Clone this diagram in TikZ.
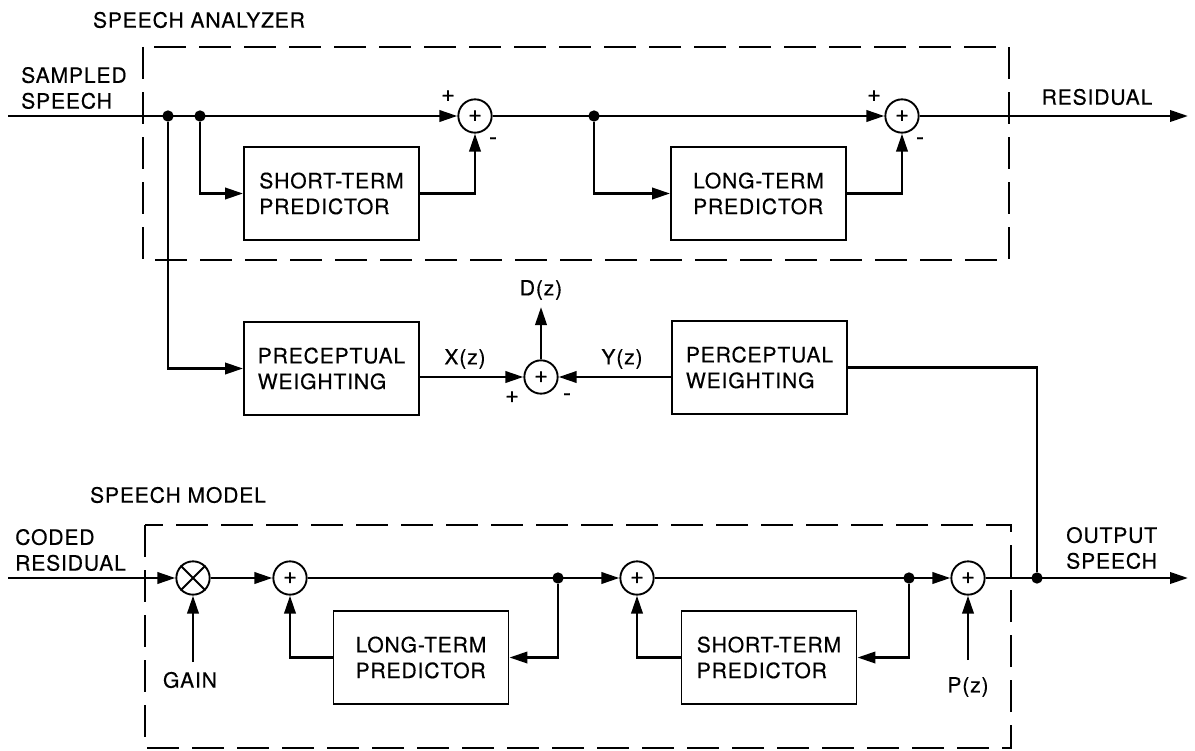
\documentclass[tikz,border=0pt]{standalone}
\usepackage{fontspec}
\setmainfont[LetterSpace=4,FakeBold=0.4]{TeX Gyre Heros}
\usetikzlibrary{arrows.meta}
\newcommand{\diafont}{\fontsize{18}{22}\selectfont}
\newcommand{\signfont}{\fontsize{20}{20}\selectfont}
\tikzset{blk/.style={draw,line width=1.6pt,minimum width=52.5mm,minimum height=28mm,align=left,font=\diafont},sum/.style={draw,circle,line width=1.6pt,minimum size=10mm,inner sep=0pt,font=\signfont},dot/.style={circle,fill,inner sep=0pt,minimum size=3.4mm},wire/.style={line width=2.3pt},edge/.style={wire,-{Triangle[length=5.4mm,width=3.4mm]}},frame/.style={line width=2pt,dash pattern=on 9.5mm off 4mm},lbl/.style={font=\diafont,inner sep=0pt,align=left},sgn/.style={font=\signfont,inner sep=0pt}}

\begin{document}
\begin{tikzpicture}[x=0.3mm,y=-0.3mm]
\useasboundingbox (0,0) rectangle (1195,750);
% analyzer
\draw[frame] (143,47) rectangle (1009,260);
\node[lbl] (ana) at (199,20) {SPEECH ANALYZER};
\node[lbl,anchor=west] (sampled) at (21,88) {SAMPLED\\SPEECH};
\coordinate (in1) at (8,116);
\node[dot] (j1) at (168,116) {};
\node[dot] (j2) at (200,116) {};
\node[sum] (s1) at (475,116) {+};
\node[dot] (j3) at (594,116) {};
\node[sum] (s2) at (902,116) {+};
\coordinate (out1) at (1188,116);
\node[blk] (stp) at (331.5,193.5) {SHORT-TERM\\PREDICTOR};
\node[blk] (ltp) at (758.5,193.5) {LONG-TERM\\PREDICTOR};
\node[lbl] (resid) at (1097,97) {RESIDUAL};
\node[sgn] at (448,96) {+};\node[sgn] at (493,141) {-};
\node[sgn] at (874,96) {+};\node[sgn] at (920,141) {-};
\draw[edge] (in1) -- (s1);\draw[edge] (j2) |- (stp.west);\draw[edge] (stp.east) -| (s1.south);
\draw[edge] (s1) -- (s2);\draw[edge] (j3) |- (ltp.west);\draw[edge] (ltp.east) -| (s2.south);
\draw[edge] (s2) -- (out1);
% error weighting
\node[blk] (pw1) at (331.5,368.5) {PRECEPTUAL\\WEIGHTING};
\node[blk] (pw2) at (759.5,367.5) {PERCEPTUAL\\WEIGHTING};
\node[sum] (s3) at (541,377) {+};
\coordinate (dz) at (541,307);
\node[lbl] at (541,290) {D(z)};
\node[lbl] at (465,359) {X(z)};
\node[lbl] at (622,359) {Y(z)};
\node[sgn] at (512,397) {+};\node[sgn] at (567,397) {-};
\draw[edge] (j1) |- (pw1.west);\draw[edge] (pw1.east |- s3) -- (s3);\draw[edge] (pw2.west |- s3) -- (s3);\draw[edge] (s3) -- (dz);
% speech model
\draw[frame] (145,525) rectangle (1011,748);
\node[lbl] (mdl) at (178,495) {SPEECH MODEL};
\node[lbl,anchor=west] (coded) at (15,550) {CODED\\RESIDUAL};
\coordinate (in2) at (8,578);
\node[sum] (mul) at (193,578) {};
\draw[line width=1.6pt] (mul.north west) -- (mul.south east) (mul.north east) -- (mul.south west);
\coordinate (gain) at (193,662);
\node[lbl] at (190,680) {GAIN};
\node[sum] (s4) at (290,578) {+};
\node[dot] (j4) at (558,578) {};
\node[sum] (s5) at (637,578) {+};
\node[dot] (j5) at (909,578) {};
\node[sum] (s6) at (968,578) {+};
\node[dot] (j6) at (1037,578) {};
\coordinate (out2) at (1188,578);
\coordinate (pz) at (968,660);
\node[lbl] at (968,687) {P(z)};
\node[blk] (lt2) at (421,657.5) {LONG-TERM\\PREDICTOR};
\node[blk] (st2) at (769,657.5) {SHORT-TERM\\PREDICTOR};
\node[lbl,anchor=west] (outsp) at (1066,548) {OUTPUT\\SPEECH};
\draw[edge] (in2) -- (mul);\draw[edge] (gain) -- (mul);\draw[edge] (mul) -- (s4);
\draw[edge] (s4) -- (s5);\draw[edge] (j4) |- (lt2.east);\draw[edge] (lt2.west) -| (s4.south);
\draw[edge] (s5) -- (s6);\draw[edge] (j5) |- (st2.east);\draw[edge] (st2.west) -| (s5.south);
\draw[edge] (pz) -- (s6);\draw[edge] (s6) -- (out2);
\draw[wire] (pw2.east) -| (j6);
\end{tikzpicture}
\end{document}
